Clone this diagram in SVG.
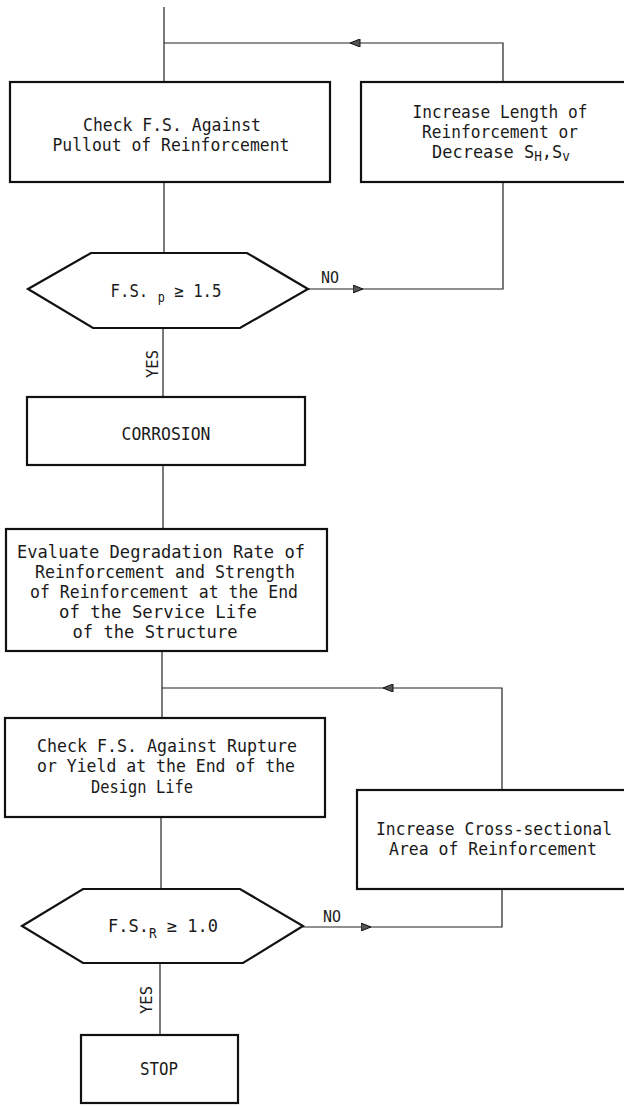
<svg xmlns="http://www.w3.org/2000/svg" width="624" height="1106" viewBox="0 0 624 1106">
  <style>
    .box { fill: #fff; stroke: #111; stroke-width: 2.2; }
    .wire { fill: none; stroke: #222; stroke-width: 1.2; }
    .t { font-family: "DejaVu Sans Mono", "Liberation Mono", monospace; font-size: 18px; fill: #1a1a1a; text-anchor: middle; }
    .lbl { font-family: "DejaVu Sans Mono", "Liberation Mono", monospace; font-size: 16px; fill: #1a1a1a; text-anchor: middle; }
    .sub { font-size: 13.5px; }
  </style>
  <defs>
    <marker id="arrow" viewBox="0 0 10 8" refX="10" refY="4" markerWidth="11" markerHeight="8" markerUnits="userSpaceOnUse" orient="auto">
      <path d="M0,0 L10,4 L0,8 Z" fill="#555" stroke="#111" stroke-width="1"/>
    </marker>
  </defs>
  <rect width="624" height="1106" fill="#fff"/>

  <!-- flow lines -->
  <g id="connectors">
    <path class="wire" d="M164,7 V82"/>
    <path class="wire" d="M503,82 V43 H350" marker-end="url(#arrow)"/>
    <path class="wire" d="M350,43 H164"/>
    <path class="wire" d="M164,182 V253"/>
    <path class="wire" d="M308,289 H363" marker-end="url(#arrow)"/>
    <path class="wire" d="M363,289 H503 V182"/>
    <path class="wire" d="M163,328 V397"/>
    <path class="wire" d="M163,465 V529"/>
    <path class="wire" d="M162,651 V718"/>
    <path class="wire" d="M502,790 V688 H383" marker-end="url(#arrow)"/>
    <path class="wire" d="M383,688 H162"/>
    <path class="wire" d="M161,817 V889"/>
    <path class="wire" d="M303,927 H371" marker-end="url(#arrow)"/>
    <path class="wire" d="M371,927 H502 V889"/>
    <path class="wire" d="M160,963 V1035"/>
    <text class="lbl" x="330" y="283" textLength="18" lengthAdjust="spacingAndGlyphs">NO</text>
    <text class="lbl" transform="translate(158,364) rotate(-90)" textLength="28" lengthAdjust="spacingAndGlyphs">YES</text>
    <text class="lbl" x="332" y="922" textLength="18" lengthAdjust="spacingAndGlyphs">NO</text>
    <text class="lbl" transform="translate(152,1000) rotate(-90)" textLength="28" lengthAdjust="spacingAndGlyphs">YES</text>
  </g>

  <g id="check-pullout">
    <rect class="box" x="10" y="82" width="320" height="100"/>
    <text class="t" x="172" y="131" textLength="178" lengthAdjust="spacingAndGlyphs">Check F.S. Against</text>
    <text class="t" x="171" y="151" textLength="237" lengthAdjust="spacingAndGlyphs">Pullout of Reinforcement</text>
  </g>

  <g id="increase-length">
    <rect class="box" x="361" y="82" width="290" height="100"/>
    <text class="t" x="500" y="118" textLength="175" lengthAdjust="spacingAndGlyphs">Increase Length of</text>
    <text class="t" x="500" y="138" textLength="156" lengthAdjust="spacingAndGlyphs">Reinforcement or</text>
    <text class="t" x="501" y="158" textLength="138" lengthAdjust="spacingAndGlyphs">Decrease S<tspan class="sub" dy="3">H</tspan><tspan dy="-3">,S</tspan><tspan class="sub" dy="3">v</tspan></text>
  </g>

  <g id="decision-pullout">
    <polygon class="box" points="28,289 91,253 247,253 308,289 240,328 93,328"/>
    <text class="t" x="166" y="297" textLength="111" lengthAdjust="spacingAndGlyphs">F.S. <tspan class="sub" dy="5">p</tspan><tspan dy="-5"> ≥ 1.5</tspan></text>
  </g>

  <g id="corrosion">
    <rect class="box" x="27" y="397" width="278" height="68"/>
    <text class="t" x="166" y="440" textLength="89" lengthAdjust="spacingAndGlyphs">CORROSION</text>
  </g>

  <g id="evaluate-degradation">
    <rect class="box" x="6" y="529" width="321" height="122"/>
    <text class="t" x="161" y="558" textLength="288" lengthAdjust="spacingAndGlyphs">Evaluate Degradation Rate of</text>
    <text class="t" x="165" y="578" textLength="260" lengthAdjust="spacingAndGlyphs">Reinforcement and Strength</text>
    <text class="t" x="164" y="598" textLength="268" lengthAdjust="spacingAndGlyphs">of Reinforcement at the End</text>
    <text class="t" x="158" y="618" textLength="198" lengthAdjust="spacingAndGlyphs">of the Service Life</text>
    <text class="t" x="155" y="638" textLength="165" lengthAdjust="spacingAndGlyphs">of the Structure</text>
  </g>

  <g id="check-rupture">
    <rect class="box" x="5" y="718" width="320" height="99"/>
    <text class="t" x="167" y="752" textLength="260" lengthAdjust="spacingAndGlyphs">Check F.S. Against Rupture</text>
    <text class="t" x="166" y="772" textLength="258" lengthAdjust="spacingAndGlyphs">or Yield at the End of the</text>
    <text class="t" x="142" y="793" textLength="102" lengthAdjust="spacingAndGlyphs">Design Life</text>
  </g>

  <g id="increase-area">
    <rect class="box" x="357" y="790" width="290" height="99"/>
    <text class="t" x="494" y="835" textLength="236" lengthAdjust="spacingAndGlyphs">Increase Cross-sectional</text>
    <text class="t" x="493" y="855" textLength="208" lengthAdjust="spacingAndGlyphs">Area of Reinforcement</text>
  </g>

  <g id="decision-rupture">
    <polygon class="box" points="22,926 83,889 240,889 303,926 243,963 83,963"/>
    <text class="t" x="163" y="932" textLength="110" lengthAdjust="spacingAndGlyphs">F.S.<tspan class="sub" dy="6">R</tspan><tspan dy="-6"> ≥ 1.0</tspan></text>
  </g>

  <g id="stop">
    <rect class="box" x="81" y="1035" width="157" height="68"/>
    <text class="t" x="159" y="1075" textLength="38" lengthAdjust="spacingAndGlyphs">STOP</text>
  </g>
</svg>
